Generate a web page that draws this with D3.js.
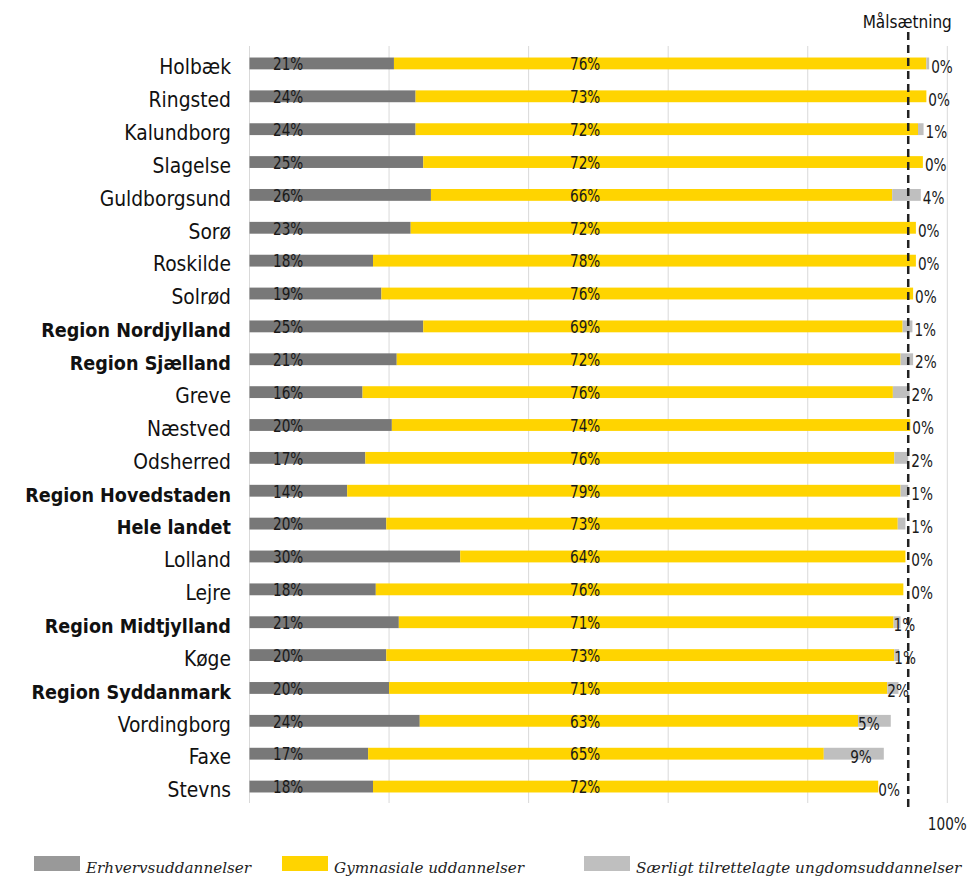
<!DOCTYPE html>
<html>
<head>
<meta charset="utf-8">
<script src="https://d3js.org/d3.v7.min.js"></script>
<style>
  body { margin: 0; background: #fff; }
</style>
</head>
<body>
<div id="graph"></div>
<script>
const categories = [
  "Holbæk", "Ringsted", "Kalundborg", "Slagelse", "Guldborgsund", "Sorø",
  "Roskilde", "Solrød", "Region Nordjylland", "Region Sjælland", "Greve",
  "Næstved", "Odsherred", "Region Hovedstaden", "Hele landet", "Lolland",
  "Lejre", "Region Midtjylland", "Køge", "Region Syddanmark", "Vordingborg",
  "Faxe", "Stevns"
];
// rows that are regions / whole country (shown in bold)
const aggregates = [
  "Region Nordjylland", "Region Sjælland", "Region Hovedstaden",
  "Hele landet", "Region Midtjylland", "Region Syddanmark"
];
const erhverv = [20.7, 23.8, 23.8, 24.9, 26.0, 23.1, 17.7, 18.9, 24.9, 21.1, 16.2, 20.4, 16.6, 14.0, 19.6, 30.2, 18.1, 21.4, 19.6, 20.0, 24.4, 17.0, 17.7];
const gymnasial = [76.3, 73.2, 72.0, 71.6, 66.1, 72.4, 77.8, 76.2, 68.7, 72.2, 76.0, 74.3, 75.8, 79.3, 73.3, 63.8, 75.6, 70.9, 72.8, 71.4, 62.8, 65.3, 72.4];
const saerlig = [0.4, 0, 0.8, 0, 4.1, 0, 0, 0, 1.4, 1.8, 2.4, 0, 2.0, 1.1, 1.1, 0, 0, 1.0, 0.7, 1.6, 4.7, 8.6, 0];
const seriesNames = ["Erhvervsuddannelser", "Gymnasiale uddannelser", "Særligt tilrettelagte ungdomsuddannelser"];
const xTicks = [0, 20, 40, 60, 80, 100];
const target = 94.4;
const targetLabel = "Målsætning";

const barColors = ["#787878", "#FFD400", "#BFBFBF"];
const legendColors = ["#999999", "#FFD400", "#BFBFBF"];
const sansFont = "'DejaVu Sans Condensed', 'DejaVu Sans', sans-serif";
const numSize = 18.5;
const numSquash = 0.82; // the numbers in the original use a narrow face

let dimensions = {
  width: 968,
  height: 877,
  margin: { top: 47, right: 20.7, bottom: 74, left: 249.5 },
};
dimensions.boundedWidth = dimensions.width - dimensions.margin.left - dimensions.margin.right;
dimensions.boundedHeight = dimensions.height - dimensions.margin.top - dimensions.margin.bottom;

const keys = ["erhverv", "gymnasial", "saerlig"];
const table = categories.map((c, i) => ({
  name: c,
  erhverv: erhverv[i],
  gymnasial: gymnasial[i],
  saerlig: saerlig[i],
}));

const place = (x, y) => `translate(${x},${y}) scale(${numSquash},1)`;

function drawChart() {
  const wrapper = d3.select("#graph")
    .append("svg")
    .attr("width", dimensions.width)
    .attr("height", dimensions.height);

  const xScaler = d3.scaleLinear()
    .domain([0, 100])
    .range([dimensions.margin.left, dimensions.margin.left + dimensions.boundedWidth]);

  const yScaler = d3.scaleBand()
    .domain(categories)
    .range([dimensions.margin.top, dimensions.margin.top + dimensions.boundedHeight])
    .paddingInner(0.64)
    .paddingOuter(0.32);

  const gridBottom = dimensions.margin.top + dimensions.boundedHeight;
  const midY = d => yScaler(d) + yScaler.bandwidth() / 2;

  // gridlines
  wrapper.append("g")
    .selectAll("line")
    .data(xTicks)
    .join("line")
    .attr("x1", d => xScaler(d))
    .attr("x2", d => xScaler(d))
    .attr("y1", dimensions.margin.top - 1)
    .attr("y2", gridBottom)
    .attr("stroke", "#d9d9d9")
    .attr("stroke-width", 1);

  // only the last tick is labelled
  wrapper.append("text")
    .attr("transform", place(xScaler(xTicks[xTicks.length - 1]), 830))
    .attr("text-anchor", "middle")
    .attr("font-family", sansFont)
    .attr("font-size", numSize)
    .attr("fill", "#1a1a1a")
    .text(xTicks[xTicks.length - 1] + "%");

  const stacked = d3.stack().keys(keys)(table);

  const layers = wrapper.append("g")
    .selectAll("g")
    .data(stacked)
    .join("g")
    .attr("fill", (d, i) => barColors[i]);

  layers.selectAll("rect")
    .data(d => d)
    .join("rect")
    .attr("x", d => xScaler(d[0]))
    .attr("y", d => yScaler(d.data.name))
    .attr("width", d => xScaler(d[1]) - xScaler(d[0]))
    .attr("height", yScaler.bandwidth());

  // category labels
  wrapper.append("g")
    .selectAll("text")
    .data(categories)
    .join("text")
    .attr("x", 231)
    .attr("y", d => midY(d) + 10.8)
    .attr("text-anchor", "end")
    .attr("font-family", sansFont)
    .attr("font-size", d => aggregates.includes(d) ? 19.6 : 20.8)
    .attr("font-weight", d => aggregates.includes(d) ? "bold" : "normal")
    .attr("fill", "#111")
    .text(d => d);

  const labels = wrapper.append("g")
    .attr("font-family", sansFont)
    .attr("font-size", numSize)
    .attr("fill", "#1a1a1a");

  // erhverv labels sit near the base
  labels.selectAll(".lab-e")
    .data(table)
    .join("text")
    .attr("class", "lab-e")
    .attr("transform", d => place(xScaler(0) + 23.5, midY(d.name) + 6.8))
    .text(d => Math.round(d.erhverv) + "%");

  labels.selectAll(".lab-g")
    .data(table)
    .join("text")
    .attr("class", "lab-g")
    .attr("text-anchor", "middle")
    .attr("transform", d => place(xScaler(48.1), midY(d.name) + 6.8))
    .text(d => Math.round(d.gymnasial) + "%");

  const dashX = xScaler(target);

  labels.selectAll(".lab-s")
    .data(table)
    .join("text")
    .attr("class", "lab-s")
    .text(d => Math.round(d.saerlig) + "%")
    .attr("transform", function (d) {
      const total = d.erhverv + d.gymnasial + d.saerlig;
      const w = this.getComputedTextLength() * numSquash;
      const x = total >= 93.5
        ? Math.max(xScaler(total) + 2, dashX + 3)
        : Math.max(xScaler(d.erhverv + d.gymnasial), xScaler(total) - 12 - w);
      return place(x, midY(d.name) + 9.2);
    });

  // target line
  wrapper.append("line")
    .attr("x1", dashX)
    .attr("x2", dashX)
    .attr("y1", 32)
    .attr("y2", 810)
    .attr("stroke", "#222")
    .attr("stroke-width", 2.5)
    .attr("stroke-dasharray", "8,5");

  wrapper.append("text")
    .attr("x", dashX - 1)
    .attr("y", 28)
    .attr("text-anchor", "middle")
    .attr("font-family", sansFont)
    .attr("font-size", 17)
    .attr("fill", "#111")
    .text(targetLabel);

  // legend
  const legendX = [34, 282, 584];
  const legend = wrapper.append("g")
    .selectAll("g")
    .data(seriesNames)
    .join("g")
    .attr("transform", (d, i) => `translate(${legendX[i]},856)`);

  legend.append("rect")
    .attr("width", 46)
    .attr("height", 15)
    .attr("fill", (d, i) => legendColors[i]);

  legend.append("text")
    .attr("x", 52)
    .attr("y", 17)
    .attr("font-family", "'DejaVu Serif', serif")
    .attr("font-style", "italic")
    .attr("font-size", 15.2)
    .attr("fill", "#222")
    .text(d => d);
}

drawChart();
</script>
</body>
</html>
